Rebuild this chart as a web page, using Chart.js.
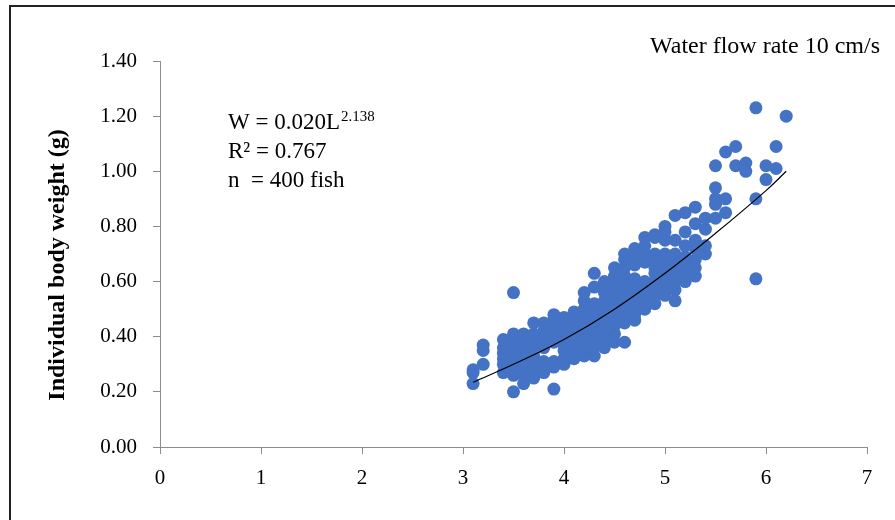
<!DOCTYPE html>
<html>
<head>
<meta charset="utf-8">
<script src="https://cdn.jsdelivr.net/npm/chart.js@4.4.1/dist/chart.umd.min.js"></script>
<style>
  html, body { margin: 0; padding: 0; background: #fff; }
  #wrap { position: relative; width: 895px; height: 520px; }
  #frame { position: absolute; left: 9px; top: 5px; right: -4px; bottom: -4px; border-left: 2px solid #222; border-top: 2px solid #222; pointer-events: none; }
  canvas { position: absolute; left: 0; top: 0; }
</style>
</head>
<body>
<div id="wrap">
  <canvas id="chart" width="895" height="520"></canvas>
  <div id="frame"></div>
</div>
<script>
// fish length classes (cm) and the weights (g) at each length
const lengthClasses = [3.1, 3.2, 3.4, 3.5, 3.6, 3.7, 3.8, 3.9, 4.0, 4.1, 4.2, 4.3, 4.4, 4.5, 4.6, 4.7, 4.8, 4.9, 5.0, 5.1, 5.2, 5.3, 5.4, 5.5, 5.6, 5.7, 5.8, 5.9, 6.0, 6.1, 6.2];
const weightsAtLength = [
  [0.23, 0.27, 0.28],
  [0.30, 0.35, 0.37],
  [0.27, 0.30, 0.32, 0.34, 0.36, 0.39],
  [0.20, 0.26, 0.28, 0.31, 0.33, 0.36, 0.38, 0.41, 0.56],
  [0.23, 0.26, 0.29, 0.31, 0.34, 0.37, 0.39, 0.41],
  [0.25, 0.28, 0.30, 0.33, 0.36, 0.38, 0.41, 0.45],
  [0.27, 0.29, 0.31, 0.36, 0.39, 0.42, 0.45],
  [0.21, 0.29, 0.31, 0.38, 0.40, 0.43, 0.46, 0.48],
  [0.30, 0.32, 0.35, 0.37, 0.40, 0.42, 0.44, 0.47],
  [0.32, 0.34, 0.36, 0.39, 0.41, 0.43, 0.46, 0.49],
  [0.33, 0.35, 0.38, 0.40, 0.43, 0.45, 0.47, 0.50, 0.53, 0.56],
  [0.33, 0.36, 0.38, 0.41, 0.43, 0.46, 0.48, 0.50, 0.52, 0.58, 0.63],
  [0.36, 0.39, 0.41, 0.44, 0.46, 0.48, 0.51, 0.53, 0.56, 0.58, 0.60],
  [0.38, 0.41, 0.44, 0.46, 0.49, 0.51, 0.54, 0.56, 0.59, 0.62, 0.65],
  [0.38, 0.45, 0.47, 0.50, 0.52, 0.55, 0.57, 0.60, 0.62, 0.65, 0.68, 0.70],
  [0.46, 0.48, 0.51, 0.53, 0.56, 0.58, 0.61, 0.66, 0.69, 0.72],
  [0.50, 0.52, 0.55, 0.57, 0.60, 0.67, 0.70, 0.73, 0.76],
  [0.52, 0.55, 0.58, 0.60, 0.63, 0.65, 0.68, 0.70, 0.76, 0.77],
  [0.55, 0.58, 0.61, 0.63, 0.66, 0.68, 0.70, 0.75, 0.78, 0.80],
  [0.53, 0.57, 0.60, 0.62, 0.65, 0.68, 0.70, 0.75, 0.84],
  [0.60, 0.63, 0.66, 0.69, 0.73, 0.78, 0.85],
  [0.62, 0.65, 0.68, 0.72, 0.75, 0.81, 0.87],
  [0.70, 0.73, 0.79, 0.83],
  [0.83, 0.88, 0.90, 0.94, 1.02],
  [0.85, 0.90, 1.07],
  [1.02, 1.09],
  [1.00, 1.03],
  [0.61, 0.90, 1.23],
  [0.97, 1.02],
  [1.01, 1.09],
  [1.20]
];

// power trend line
const fitLengths = [3.1, 3.5, 4.0, 4.5, 5.0, 5.5, 6.0, 6.2];
const fitWeights = [0.235, 0.30, 0.39, 0.50, 0.63, 0.775, 0.93, 1.00];

const xTicks = [0, 1, 2, 3, 4, 5, 6, 7];
const yTicks = [0, 0.2, 0.4, 0.6, 0.8, 1.0, 1.2, 1.4];

const SERIF = '"Liberation Serif", "Times New Roman", serif';

var fishPoints = [];
for (var i = 0; i < lengthClasses.length; i++) {
  for (var w of weightsAtLength[i]) {
    fishPoints.push({ x: lengthClasses[i], y: w });
  }
}
var fitPoints = fitLengths.map((l, i) => ({ x: l, y: fitWeights[i] }));

const textPlugin = {
  id: 'labels',
  afterDraw(chart) {
    const ctx = chart.ctx;
    ctx.save();
    ctx.fillStyle = '#000';
    ctx.textBaseline = 'alphabetic';
    ctx.textAlign = 'left';

    ctx.font = '24px ' + SERIF;
    ctx.fillText('Water flow rate 10 cm/s', 650, 53);

    ctx.font = '23px ' + SERIF;
    var base = 'W = 0.020L';
    ctx.fillText(base, 228, 129);
    var bw = ctx.measureText(base).width;
    ctx.font = '15px ' + SERIF;
    ctx.fillText('2.138', 228 + bw + 1, 121);

    ctx.font = '23px ' + SERIF;
    ctx.fillText('R\u00B2 = 0.767', 228, 158);
    ctx.fillText('n  = 400 fish', 228, 187);

    ctx.translate(58, 265);
    ctx.rotate(-Math.PI / 2);
    ctx.textAlign = 'center';
    ctx.textBaseline = 'middle';
    ctx.font = 'bold 24px ' + SERIF;
    ctx.fillText('Individual body weight (g)', 0, 0);
    ctx.restore();
  }
};

new Chart(document.getElementById('chart').getContext('2d'), {
  type: 'scatter',
  data: {
    datasets: [
      {
        label: 'trend',
        data: fitPoints,
        showLine: true,
        borderColor: '#000',
        borderWidth: 1.2,
        pointRadius: 0,
        tension: 0.4,
        order: 0
      },
      {
        label: 'fish',
        data: fishPoints,
        backgroundColor: '#4472C4',
        borderWidth: 0,
        pointRadius: 6.5,
        pointHoverRadius: 6.5,
        order: 1
      }
    ]
  },
  options: {
    responsive: false,
    animation: false,
    devicePixelRatio: 1,
    events: [],
    layout: { padding: { left: 0, right: 28, top: 61, bottom: 0 } },
    plugins: { legend: { display: false }, tooltip: { enabled: false } },
    scales: {
      x: {
        type: 'linear',
        min: 0, max: 7,
        afterBuildTicks: s => { s.ticks = xTicks.map(v => ({ value: v })); },
        afterFit: s => { s.height = 73; },
        grid: { drawOnChartArea: false, color: '#8c8c8c', tickLength: 7 },
        border: { color: '#8c8c8c', width: 1 },
        ticks: { color: '#000', padding: 12, font: { family: SERIF, size: 21 } }
      },
      y: {
        min: 0, max: 1.4,
        afterBuildTicks: s => { s.ticks = yTicks.map(v => ({ value: v })); },
        afterFit: s => { s.width = 160; },
        grid: { drawOnChartArea: false, color: '#8c8c8c', tickLength: 7 },
        border: { color: '#8c8c8c', width: 1 },
        ticks: { color: '#000', padding: 16, font: { family: SERIF, size: 21 },
          callback: v => v.toFixed(2) }
      }
    }
  },
  plugins: [textPlugin]
});
</script>
</body>
</html>
